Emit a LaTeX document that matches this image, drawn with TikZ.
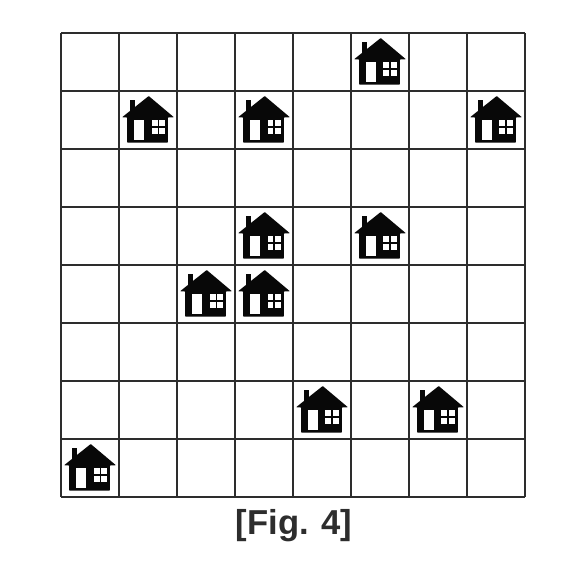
\documentclass[tikz,border=0pt]{standalone}
\usepackage{fontspec}
\setmainfont{Liberation Sans}
\definecolor{gridgray}{RGB}{45, 45, 45}
\definecolor{houseblack}{RGB}{8, 8, 8}
\tikzset{
  gridline/.style={draw=gridgray, line width=1.15pt},
  figlabel/.style={font=\fontsize{19.7pt}{22pt}\selectfont\bfseries, text=gridgray, inner sep=0pt},
  house/.pic={
    \begin{scope}[scale=1/58]
      % body, roof and chimney
      \fill[houseblack, rounded corners=0.4pt] (-26, 2.7) -- (0.7, 24) -- (26, 2.7) -- (20, 2.7) -- (20, -22.6) -- (-21, -22.6) -- (-21, 2.7) -- cycle;
      \fill[houseblack] (-18.3, 20.3) rectangle (-12.7, 8);
      % door
      \fill[white] (-14, 0) rectangle (-4, -19.7);
      % window
      \fill[white] (3.5, 0) rectangle (17, -13.7);
      \draw[houseblack, line width=0.85pt] (10.25, 0) -- (10.25, -13.7) (3.5, -6.85) -- (17, -6.85);
    \end{scope}
  }
}

\begin{document}
\begin{tikzpicture}[x=1.16cm, y=1.16cm]
  \useasboundingbox (-1.052, -1.121) rectangle (9.052, 8.569);

  % Grid
  \foreach \i in {0,...,8} {
    \draw[gridline] (\i, 0) -- (\i, 8);
    \draw[gridline] (0, \i) -- (8, \i);
  }

  % Houses
  \foreach \col/\row in {5/7, 1/6, 3/6, 7/6, 3/4, 5/4, 2/3, 3/3, 4/1, 6/1, 0/0} {
    \pic at (\col+0.5, \row+0.5) {house};
  }

  % Caption
  \node[figlabel] (caption) at (4.02, -0.5) {[Fig. 4]};
\end{tikzpicture}
\end{document}
